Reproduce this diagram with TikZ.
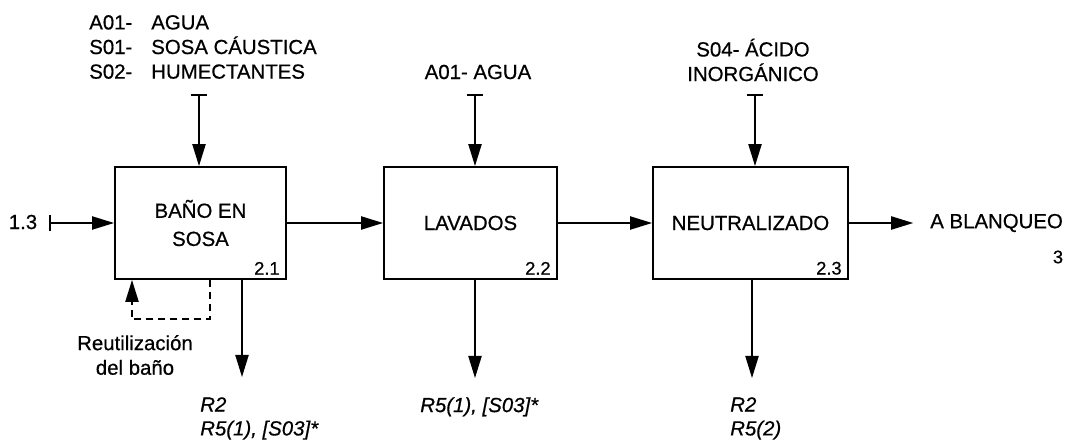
\documentclass[tikz,border=0pt]{standalone}
\usepackage{fontspec}
\setmainfont{Liberation Sans}[FakeBold=0.6]
\usetikzlibrary{arrows.meta}

\begin{document}
\begin{tikzpicture}[x=0.025cm, y=-0.025cm,
  proc/.style={draw, line width=1.3pt, minimum height=2.8cm, inner sep=0pt, align=center, font=\fontsize{14.5}{20}\selectfont},
  lbl/.style={inner sep=0pt, font=\fontsize{14.5}{17.5}\selectfont},
  res/.style={inner sep=0pt, align=left, font=\fontsize{14.5}{17}\selectfont\itshape},
  num/.style={anchor=south east, inner xsep=5pt, inner ysep=3.5pt, font=\fontsize{13}{15}\selectfont},
  flow/.style={-{Triangle[length=5.5mm,width=3.3mm]}, line width=1.1pt},
  feed/.style={{Bar[width=4mm]}-{Triangle[length=5.5mm,width=3.3mm]}, line width=1.1pt}]
\useasboundingbox (0,0) rectangle (1071,445);
% process boxes
\node[proc, minimum width=4.275cm] (bano) at (200.5,223) {BAÑO EN\\SOSA};
\node[proc, minimum width=4.325cm] (lav) at (470.5,223) {LAVADOS};
\node[proc, minimum width=4.875cm] (neu) at (750.5,223) {NEUTRALIZADO};
\node[num] (nbano) at (bano.south east) {2.1}; \node[num] (nlav) at (lav.south east) {2.2}; \node[num] (nneu) at (neu.south east) {2.3};
% inputs
\node[lbl, anchor=west, align=left] (quim1) at (89,47) {\makebox[1.55cm][l]{A01-}AGUA\\\makebox[1.55cm][l]{S01-}SOSA CÁUSTICA\\\makebox[1.55cm][l]{S02-}HUMECTANTES};
\node[lbl] (quim2) at (478,72) {A01- AGUA};
\node[lbl, align=center] (quim3) at (753,60) {S04- ÁCIDO\\INORGÁNICO};
\coordinate (e1) at (199,94); \coordinate (e2) at (475,94); \coordinate (e3) at (755,94);
\draw[feed] (e1) -- (e1 |- bano.north); \draw[feed] (e2) -- (e2 |- lav.north); \draw[feed] (e3) -- (e3 |- neu.north);
\node[lbl] (ent) at (23,222) {1.3}; \coordinate (e0) at (49,223);
\draw[feed] (e0) -- (bano.west |- e0);
% main line
\draw[flow] (bano) -- (lav); \draw[flow] (lav) -- (neu);
\node[lbl, anchor=west] (blanq) at (930,223) {A BLANQUEO}; \node[num, anchor=center, inner sep=0pt] (dest) at (1058,257) {3};
\draw[flow, shorten >=0.42cm] (neu) -- (blanq);
% outputs
\coordinate (s1) at (242,377); \coordinate (s2) at (475,378); \coordinate (s3) at (752,378);
\draw[flow] (bano.south -| s1) -- (s1); \draw[flow] (lav.south -| s2) -- (s2); \draw[flow] (neu.south -| s3) -- (s3);
\node[res, anchor=north west] (res1) at (200,397) {R2\\R5(1), [S03]*};
\node[res, anchor=north west] (res2) at (420,397) {R5(1), [S03]*};
\node[res, anchor=north west] (res3) at (730,397) {R2\\R5(2)};
% bath reuse
\coordinate (fb1) at (210,319); \coordinate (fb2) at (132,319);
\draw[flow, dash pattern=on 5pt off 3.5pt] (bano.south -| fb1) -- (fb1) -- (fb2) -- (bano.south -| fb2);
\node[lbl, align=center] (reut) at (135,355) {Reutilización\\del baño};
\end{tikzpicture}
\end{document}
